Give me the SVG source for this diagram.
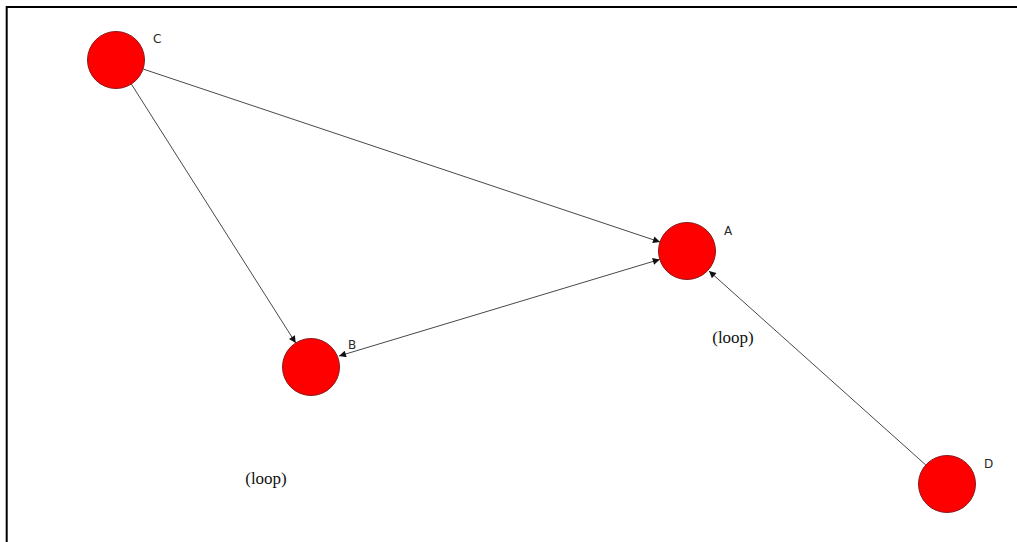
<svg xmlns="http://www.w3.org/2000/svg" width="1017" height="542" viewBox="0 0 1017 542">
  <style>
    .node circle { fill: #ff0000; stroke: #8b1a1a; stroke-width: 1; }
    .node text { font-family: "DejaVu Sans", Verdana, sans-serif; font-size: 12px; fill: #2a2a2a; }
    .edge { stroke: #333333; stroke-width: 0.9; fill: none; }
    .note { font-family: "Liberation Serif", "Times New Roman", serif; font-size: 17px; fill: #111111; }
  </style>
  <defs>
    <marker id="arrow" viewBox="0 0 10 10" refX="10" refY="5" markerWidth="9" markerHeight="7" markerUnits="userSpaceOnUse" orient="auto-start-reverse">
      <path d="M0,0 L10,5 L0,10 z" fill="#111111"/>
    </marker>
  </defs>

  <rect width="1017" height="542" fill="#ffffff"/>
  <!-- frame: top and left edges only -->
  <path d="M6.7,542 V7 H1017" fill="none" stroke="#000000" stroke-width="2"/>

  <g id="connectors">
    <line class="edge" x1="143" y1="69" x2="660" y2="242" marker-end="url(#arrow)"/>
    <line class="edge" x1="131.3" y1="84" x2="295.7" y2="343" marker-end="url(#arrow)"/>
    <line class="edge" x1="339" y1="356" x2="659.8" y2="259.4" marker-start="url(#arrow)" marker-end="url(#arrow)"/>
    <line class="edge" x1="925.8" y1="465" x2="709" y2="271" marker-end="url(#arrow)"/>
  </g>

  <g id="node-C" class="node">
    <circle cx="116" cy="60" r="28.5"/>
    <text x="153" y="43">C</text>
  </g>
  <g id="node-A" class="node">
    <circle cx="687" cy="251" r="28.5"/>
    <text x="724" y="235">A</text>
  </g>
  <g id="node-B" class="node">
    <circle cx="311" cy="367" r="28.5"/>
    <text x="348" y="349">B</text>
  </g>
  <g id="node-D" class="node">
    <circle cx="947" cy="484" r="28.5"/>
    <text x="984" y="468">D</text>
  </g>

  <text class="note" x="733" y="343" text-anchor="middle">(loop)</text>
  <text class="note" x="266" y="484" text-anchor="middle">(loop)</text>
</svg>
